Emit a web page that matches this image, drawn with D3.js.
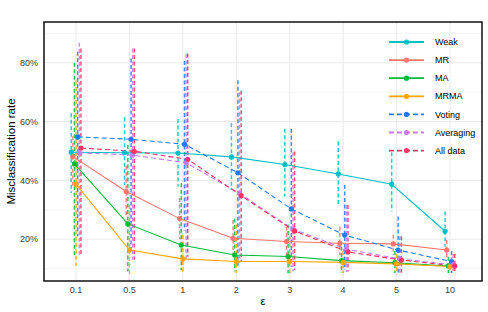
<!DOCTYPE html>
<html><head><meta charset="utf-8">
<script src="https://cdn.jsdelivr.net/npm/d3@7"></script>
<style>body{margin:0;background:#fff}svg{display:block;font-family:"Liberation Sans",Arial,sans-serif}</style>
</head><body><svg id="c" width="488" height="312"></svg>
<script>
const epsilons = ["0.1","0.5","1","2","3","4","5","10"];
const seriesNames = ["Weak","MR","MA","MRMA","Voting","Averaging","All data"];
const seriesColors = ["#00BFC4","#F8766D","#00BA38","#FFA500","#1F7AFF","#C77CFF","#FF3366"];
const seriesDashed = [false,false,false,false,true,true,true];
const yTicks = [20,40,60,80];
const yMinor = [10,30,50,70,90];

const weakMean = [49.6,49.4,49.3,48.0,45.4,42.2,38.7,22.7];
const weakLo   = [35.7,38.4,37.9,36.7,34.5,31.6,29.4,17.4];
const weakHi   = [62.8,61.5,60.9,59.4,57.6,53.2,49.6,29.4];
const mrMean = [48.1,36.2,27.0,20.3,19.2,18.6,18.4,16.3];
const mrLo   = [38.0,28.0,20.0,14.5,14.5,14.5,14.5,13.5];
const mrHi   = [55.0,45.0,34.0,26.5,24.3,24.3,21.5,19.7];
const maMean = [45.6,25.2,18.0,14.6,14.1,12.7,12.0,10.9];
const maLo   = [14.0,9.0,9.5,9.0,8.4,8.5,8.5,8.5];
const maHi   = [80.0,52.0,39.0,27.0,25.0,17.5,16.0,14.0];
const mrmaMean = [38.7,16.3,13.3,12.4,12.4,12.1,11.6,10.7];
const mrmaLo   = [11.0,8.0,9.0,8.5,8.3,8.5,8.3,8.5];
const mrmaHi   = [74.0,31.6,21.4,25.0,21.0,16.0,15.0,13.0];
const votingMean = [54.8,54.0,52.3,42.6,30.3,21.4,16.3,12.4];
const votingLo   = [21.0,15.6,23.0,11.0,10.6,9.5,8.5,8.5];
const votingHi   = [83.8,81.5,80.6,74.1,57.5,38.4,27.7,16.0];
const avgMean = [49.4,48.6,46.0,35.6,23.4,16.6,13.3,11.3];
const avgLo   = [14.0,13.0,13.0,12.0,9.0,8.8,8.5,8.5];
const avgHi   = [86.8,84.9,83.0,70.0,49.5,31.6,21.0,15.0];
const allMean = [51.0,49.9,47.2,34.8,22.8,15.7,12.9,10.9];
const allLo   = [14.3,13.0,14.0,12.4,9.5,9.0,8.5,8.5];
const allHi   = [84.9,84.9,83.2,70.5,49.8,31.6,21.0,15.0];

const means = [weakMean,mrMean,maMean,mrmaMean,votingMean,avgMean,allMean];
const los = [weakLo,mrLo,maLo,mrmaLo,votingLo,avgLo,allLo];
const his = [weakHi,mrHi,maHi,mrmaHi,votingHi,avgHi,allHi];

const series = seriesNames.map((n,i)=>({name:n,color:seriesColors[i],dashed:seriesDashed[i],
  values:epsilons.map((e,j)=>({eps:e,mean:means[i][j],lo:los[i][j],hi:his[i][j]}))}));

const svg = d3.select("#c");
const P = {l:44,r:482,t:22,b:281};
const x = d3.scalePoint().domain(epsilons).range([P.l,P.r]).padding(0.6);
const step = x.step();
const dodge = d3.scalePoint().domain(seriesNames).range([-0.091*step,0.091*step]);
const y = d3.scaleLinear().domain([5.78,93.88]).range([P.b,P.t]);

// grid
const g = svg.append("g");
g.selectAll(".ym").data(yMinor).join("line").attr("x1",P.l).attr("x2",P.r)
  .attr("y1",d=>y(d)).attr("y2",d=>y(d)).attr("stroke","#EFEFEF").attr("stroke-width",0.6);
g.selectAll(".yM").data(yTicks).join("line").attr("x1",P.l).attr("x2",P.r)
  .attr("y1",d=>y(d)).attr("y2",d=>y(d)).attr("stroke","#EBEBEB").attr("stroke-width",1.1);
g.selectAll(".xM").data(epsilons).join("line").attr("y1",P.t).attr("y2",P.b)
  .attr("x1",d=>x(d)).attr("x2",d=>x(d)).attr("stroke","#EBEBEB").attr("stroke-width",1.1);

// axes labels
svg.append("g").selectAll("text").data(yTicks).join("text")
  .attr("x",38).attr("y",d=>y(d)).attr("dy","0.35em").attr("text-anchor","end")
  .attr("font-size",9).attr("fill","#404040").text(d=>d+"%");
svg.append("g").selectAll("text").data(epsilons).join("text")
  .attr("x",d=>x(d)).attr("y",290).attr("dy","0.35em").attr("text-anchor","middle")
  .attr("font-size",9).attr("fill","#404040").text(d=>d);
svg.append("text").attr("x",263).attr("y",301).attr("dy","0.35em").attr("text-anchor","middle")
  .attr("font-size",11).attr("fill","#000").text("ε");
svg.append("text").attr("transform",`translate(11,${(P.t+P.b)/2}) rotate(-90)`)
  .attr("dy","0.35em").attr("text-anchor","middle").attr("font-size",11.5).attr("fill","#000")
  .text("Misclassification rate");

const px = (s,d)=>x(d.eps)+dodge(s.name);

// error bars
const eb = svg.append("g");
series.forEach(s=>{
  eb.append("g").selectAll("line").data(s.values).join("line")
    .attr("x1",d=>px(s,d)).attr("x2",d=>px(s,d)).attr("y1",d=>y(d.hi)).attr("y2",d=>y(d.lo))
    .attr("stroke",s.color).attr("stroke-width",1.5).attr("stroke-dasharray","4,2.5").attr("opacity",0.85);
});
// lines
const line = d3.line().x(d=>d.px).y(d=>y(d.mean));
series.forEach(s=>{
  svg.append("path").datum(s.values.map(d=>({px:px(s,d),mean:d.mean})))
    .attr("d",line).attr("fill","none").attr("stroke",s.color).attr("stroke-width",1.1)
    .attr("stroke-dasharray",s.dashed?"5,3":null);
});
// points
series.forEach(s=>{
  svg.append("g").selectAll("circle").data(s.values).join("circle")
    .attr("cx",d=>px(s,d)).attr("cy",d=>y(d.mean)).attr("r",2.6).attr("fill",s.color);
});

// panel border
svg.append("rect").attr("x",P.l).attr("y",P.t).attr("width",P.r-P.l).attr("height",P.b-P.t)
  .attr("fill","none").attr("stroke","#000").attr("stroke-width",1.4);

// legend
const lg = svg.append("g");
series.forEach((s,i)=>{
  const yy = 42 + i*18.1;
  lg.append("line").attr("x1",389).attr("x2",424).attr("y1",yy).attr("y2",yy)
    .attr("stroke",s.color).attr("stroke-width",1.8).attr("stroke-dasharray",s.dashed?"5,3":null);
  lg.append("circle").attr("cx",406.5).attr("cy",yy).attr("r",2.6).attr("fill",s.color);
  lg.append("text").attr("x",435).attr("y",yy).attr("dy","0.35em").attr("font-size",9)
    .attr("fill","#000").text(s.name);
});
</script></body></html>
